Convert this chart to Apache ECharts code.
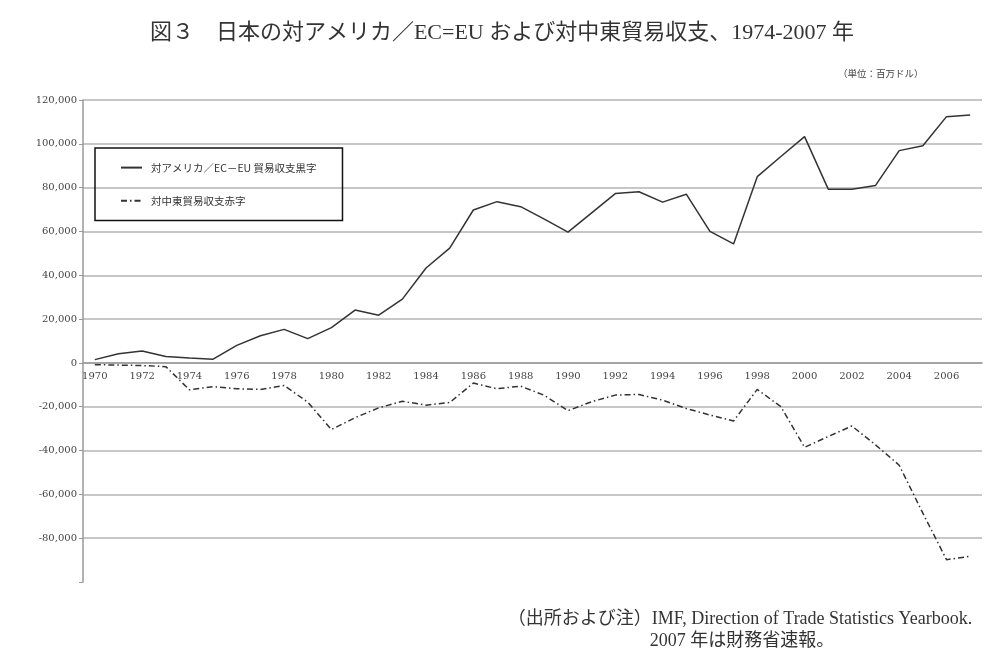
<!DOCTYPE html>
<html lang="ja">
<head>
    <meta charset="UTF-8">
    <title>図3 日本の対アメリカ／EC=EU および対中東貿易収支</title>
    <script src="https://cdn.jsdelivr.net/npm/echarts@6/dist/echarts.min.js"></script>
    <style>
        html, body { margin: 0; padding: 0; background: #fff; }
        #chart { width: 1004px; height: 665px; }
    </style>
</head>
<body>
    <div id="chart"></div>
    <script>
        // years 1970-2007
        var years = ['1970', '1971', '1972', '1973', '1974', '1975', '1976', '1977', '1978', '1979',
                     '1980', '1981', '1982', '1983', '1984', '1985', '1986', '1987', '1988', '1989',
                     '1990', '1991', '1992', '1993', '1994', '1995', '1996', '1997', '1998', '1999',
                     '2000', '2001', '2002', '2003', '2004', '2005', '2006', '2007'];
        // 対アメリカ／EC-EU 貿易収支黒字 (百万ドル)
        var usEuSurplus = [1500, 4200, 5400, 2900, 2200, 1700, 8000, 12400, 15300, 11100,
                           16100, 24100, 21800, 29100, 43300, 52400, 69800, 73600, 71300, 65600,
                           59700, 68500, 77300, 78100, 73400, 77000, 60000, 54300, 85000, 94200,
                           103300, 79300, 79300, 81000, 96900, 99100, 112400, 113200];
        // 対中東貿易収支赤字 (百万ドル)
        var middleEastDeficit = [-800, -1000, -1200, -1700, -12300, -10800, -11800, -12100, -10300, -17900,
                                 -30400, -25000, -20500, -17500, -19300, -18100, -9200, -11800, -10600, -14800,
                                 -21800, -17700, -14700, -14400, -17000, -20800, -23800, -26500, -12100, -20000,
                                 -38500, -33600, -28800, -37400, -46700, -68600, -89800, -88300];
        var seriesNames = ['対アメリカ／EC－EU 貿易収支黒字', '対中東貿易収支赤字'];
        var yMin = -100000, yMax = 120000;

        var cjk = '"Liberation Serif", "Noto Sans CJK JP", serif';
        var gridTop = 100, gridBottom = 83, chartH = 665;
        // move the category axis up to the zero line (onZero does not take here)
        var plotH = chartH - gridTop - gridBottom;
        var zeroOffset = -plotH * (0 - yMin) / (yMax - yMin);

        var chart = echarts.init(document.getElementById('chart'));
        var option = {
            backgroundColor: '#fff',
            animation: false,
            title: {
                text: '図３　日本の対アメリカ／EC=EU および対中東貿易収支、1974-2007 年',
                left: 'center',
                top: 17,
                textStyle: { fontSize: 22, fontWeight: 'normal', color: '#333', fontFamily: cjk }
            },
            grid: { left: 83, right: 22, top: gridTop, bottom: gridBottom },
            legend: {
                orient: 'vertical',
                left: 95,
                top: 148,
                padding: [14, 26, 14, 25],
                itemGap: 22,
                itemWidth: 21,
                itemHeight: 14,
                borderColor: '#111',
                borderWidth: 1.5,
                itemStyle: { opacity: 0 },
                textStyle: { fontSize: 10.5, color: '#333', padding: [0, 0, 0, 4], fontFamily: '"Noto Sans CJK JP", sans-serif' },
                data: seriesNames
            },
            xAxis: {
                type: 'category',
                data: years,
                boundaryGap: true,
                offset: zeroOffset,
                axisLine: { onZero: false, lineStyle: { color: '#999', width: 1.5 } },
                axisTick: { interval: 1, length: 3, lineStyle: { color: '#999' } },
                axisLabel: { interval: 1, margin: 8, fontSize: 10, color: '#444', fontFamily: '"DejaVu Serif", serif' },
                splitLine: { show: false }
            },
            yAxis: {
                type: 'value',
                min: yMin,
                max: yMax,
                interval: 20000,
                axisLine: { show: true, lineStyle: { color: '#999', width: 1.5 } },
                axisTick: { show: true, length: 4, lineStyle: { color: '#999' } },
                axisLabel: {
                    margin: 6,
                    fontSize: 10,
                    color: '#444',
                    fontFamily: '"DejaVu Serif", serif',
                    formatter: function (v) {
                        if (v === yMin) return '';
                        return v.toLocaleString('en-US');
                    }
                },
                splitLine: { show: true, showMinLine: false, lineStyle: { color: '#b4b4b4', width: 1.5 } }
            },
            series: [
                {
                    name: seriesNames[0],
                    type: 'line',
                    data: usEuSurplus,
                    symbol: 'none',
                    color: '#333',
                    lineStyle: { color: '#333', width: 1.5 }
                },
                {
                    name: seriesNames[1],
                    type: 'line',
                    data: middleEastDeficit,
                    symbol: 'none',
                    color: '#333',
                    lineStyle: { color: '#333', width: 1.5, type: [6, 3, 1.5, 3] }
                }
            ],
            graphic: [
                {
                    type: 'text', left: 838, top: 70,
                    style: { text: '（単位：百万ドル）', fontSize: 9.5, fill: '#444', fontFamily: cjk }
                },
                {
                    type: 'text', x: 740, y: 619,
                    style: {
                        text: '（出所および注）IMF, Direction of Trade Statistics Yearbook.',
                        fontSize: 18, fill: '#333', fontFamily: cjk,
                        textAlign: 'center', textVerticalAlign: 'middle'
                    }
                },
                {
                    type: 'text', x: 742, y: 641,
                    style: {
                        text: '2007 年は財務省速報。',
                        fontSize: 18, fill: '#333', fontFamily: cjk,
                        textAlign: 'center', textVerticalAlign: 'middle'
                    }
                }
            ]
        };
        chart.setOption(option);
    </script>
</body>
</html>
